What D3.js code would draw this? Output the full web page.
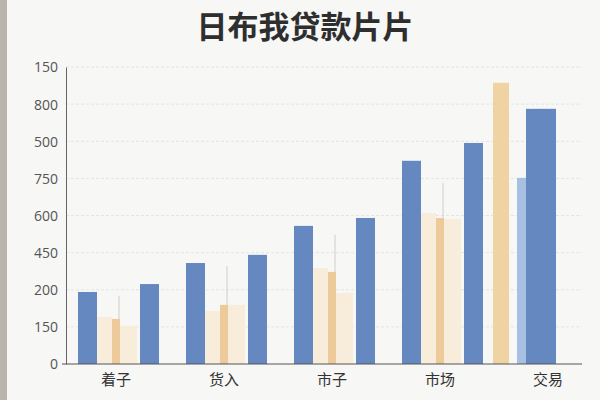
<!DOCTYPE html>
<html lang="zh">
    <head>
        <meta charset="utf-8" />
        <script src="https://cdn.jsdelivr.net/npm/d3@7"></script>
        <style>
            body {
                margin: 0;
                background: #f7f7f5;
            }
            text {
                font-family: "Noto Sans CJK SC", "Noto Sans", sans-serif;
            }
        </style>
    </head>
    <body>
        <div id="chart"></div>
        <script>
            // categories and tick labels as printed on the chart
            var categories = ["着子", "货入", "市子", "市场", "交易"];
            var tickLabels = ["0", "150", "200", "450", "600", "750", "500", "800", "150"];

            // series values (in axis units, 150 per gridline step)
            var blueLeft = [291, 408, 558, 821, null];
            var creamLeft = [190, 214, 388, 610, null];
            var orangeMid = [182, 239, 372, 590, null];
            var whiskerTop = [275, 396, 522, 732, null];
            var creamRight = [154, 239, 287, 586, null];
            var blueRight = [323, 441, 590, 893, null];
            var goldLast = [null, null, null, null, 1136];
            var paleBlueLast = [null, null, null, null, 752];
            var blueLast = [null, null, null, null, 1031];

            var width = 600,
                height = 400;

            var svg = d3
                .select("#chart")
                .append("svg")
                .attr("width", width)
                .attr("height", height);

            // paper + grey edge of the photo
            svg.append("rect")
                .attr("width", width)
                .attr("height", height)
                .attr("fill", "#f7f7f5");
            svg.append("rect")
                .attr("width", 7)
                .attr("height", height)
                .attr("fill", "#b9b5ad");

            svg.append("text")
                .attr("x", 305)
                .attr("y", 38)
                .attr("text-anchor", "middle")
                .attr("font-size", 31)
                .attr("font-weight", "bold")
                .attr("fill", "#2e2e2e")
                .text("日布我贷款片片");

            var x = d3.scaleBand().domain(categories).range([62, 602]);
            var y = d3.scaleLinear().domain([0, 1200]).range([364, 67]);
            var ticks = d3.range(0, 1201, 150);

            // dashed gridlines
            svg.append("g")
                .selectAll("line")
                .data(ticks.slice(1))
                .enter()
                .append("line")
                .attr("x1", 66)
                .attr("x2", 582)
                .attr("y1", (d) => y(d))
                .attr("y2", (d) => y(d))
                .attr("stroke", "#e4e4e2")
                .attr("stroke-dasharray", "3,2");

            var yAxis = svg
                .append("g")
                .attr("transform", "translate(66,0)")
                .call(
                    d3
                        .axisLeft(y)
                        .tickValues(ticks)
                        .tickSize(0)
                        .tickPadding(8)
                        .tickFormat((d, i) => tickLabels[i])
                );
            yAxis.select(".domain").attr("stroke", "#666");
            yAxis.selectAll("text")
                .style("font-family", "'Open Sans', sans-serif")
                .attr("font-size", 14)
                .attr("fill", "#555")
                .attr("dy", "0.35em");

            // series: colour and slot (offset/width from category centre)
            var series = [
                { values: creamLeft, color: "#f8ecda", x0: -19, x1: -4 },
                { values: creamRight, color: "#f8ecda", x0: 4, x1: 21 },
                { values: orangeMid, color: "#ecca99", x0: -4, x1: 4 },
                { values: blueLeft, color: "#6688c0", x0: -38, x1: -19 },
                { values: blueRight, color: "#6688c0", x0: 24, x1: 43 },
                { values: goldLast, color: "#efd3a2", x0: -55, x1: -39 },
                { values: paleBlueLast, color: "#a7bfe1", x0: -31, x1: -16 },
                { values: blueLast, color: "#6688c0", x0: -22, x1: 8 },
            ];

            series.forEach(function (s) {
                svg.append("g")
                    .selectAll("rect")
                    .data(s.values.map((v, i) => ({ cat: categories[i], v: v })).filter((d) => d.v != null))
                    .enter()
                    .append("rect")
                    .attr("x", (d) => x(d.cat) + x.bandwidth() / 2 + s.x0)
                    .attr("width", s.x1 - s.x0)
                    .attr("y", (d) => y(d.v))
                    .attr("height", (d) => y(0) - y(d.v))
                    .attr("fill", s.color);
            });

            // thin whiskers above the orange bars
            svg.append("g")
                .selectAll("line")
                .data(whiskerTop.map((v, i) => ({ cat: categories[i], v: v, base: orangeMid[i] })).filter((d) => d.v != null))
                .enter()
                .append("line")
                .attr("x1", (d) => x(d.cat) + x.bandwidth() / 2 + 3)
                .attr("x2", (d) => x(d.cat) + x.bandwidth() / 2 + 3)
                .attr("y1", (d) => y(d.v))
                .attr("y2", (d) => y(d.base))
                .attr("stroke", "#d4cec6")
                .attr("stroke-width", 1);

            // x axis
            var xAxis = svg
                .append("g")
                .attr("transform", "translate(0,364)")
                .call(d3.axisBottom(x).tickSize(0).tickPadding(10));
            xAxis.select(".domain").attr("d", "M62,0H582").attr("stroke", "#555");
            xAxis.selectAll("text").attr("font-size", 15).attr("fill", "#333");
        </script>
    </body>
</html>
